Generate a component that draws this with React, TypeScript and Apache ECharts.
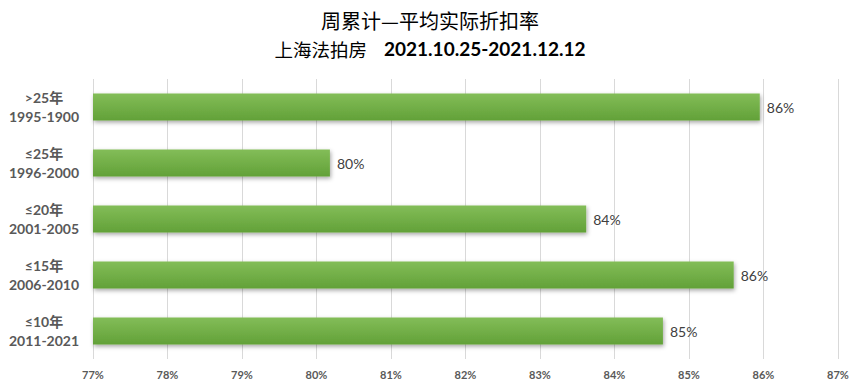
import React, { useEffect, useRef } from "react";
import * as echarts from "echarts";

const categories = [">25年\n1995-1900", "≤25年\n1996-2000", "≤20年\n2001-2005", "≤15年\n2006-2010", "≤10年\n2011-2021"];
const values = [85.95, 80.18, 83.62, 85.6, 84.65];
const xTicks = [77, 87, 1];

export default function App() {
  const ref = useRef<HTMLDivElement>(null);
  useEffect(() => {
    if (!ref.current) return;
    const chart = echarts.init(ref.current, null, { renderer: "svg" });
    chart.setOption({
      animation: false,
      backgroundColor: "#ffffff",
      title: [
        {
          text: "周累计—平均实际折扣率",
          left: "center",
          top: 5,
          textStyle: { fontFamily: "Noto Sans CJK SC", fontSize: 20, fontWeight: "normal", color: "#000" },
        },
        {
          text: "{a|上海法拍房}{s| }{b|2021.10.25-2021.12.12}",
          left: "center",
          top: 34,
          textStyle: {
            rich: {
              a: { fontFamily: "Noto Sans CJK SC", fontSize: 18.5, fontWeight: "normal", color: "#000" },
              s: { width: 17 },
              b: { fontFamily: "Lato", fontSize: 19, fontWeight: "bold", color: "#000" },
            },
          },
        },
      ],
      grid: { left: 93, right: 22, top: 79, height: 280, containLabel: false },
      xAxis: {
        type: "value",
        min: xTicks[0],
        max: xTicks[1],
        interval: xTicks[2],
        axisLine: { show: false },
        axisTick: { show: false },
        splitLine: { show: true, lineStyle: { color: "#d9d9d9", width: 1 } },
        axisLabel: {
          formatter: (v: number) => `${v}%`,
          color: "#595959",
          fontFamily: "Lato",
          fontSize: 11,
          fontWeight: "bold",
          margin: 10,
        },
      },
      yAxis: {
        type: "category",
        data: categories,
        inverse: true,
        axisLine: { show: false },
        axisTick: { show: false },
        axisLabel: {
          align: "center",
          margin: 49,
          color: "#595959",
          fontFamily: "Lato, Noto Sans CJK SC",
          fontSize: 14,
          fontWeight: "bold",
          lineHeight: 19,
        },
      },
      series: [
        {
          type: "bar",
          data: values,
          barWidth: 27,
          itemStyle: {
            color: new echarts.graphic.LinearGradient(0, 0, 0, 1, [
              { offset: 0, color: "#83bd58" },
              { offset: 1, color: "#62a138" },
            ]),
            shadowBlur: 4,
            shadowColor: "rgba(0,0,0,0.35)",
            shadowOffsetX: 1,
            shadowOffsetY: 2,
          },
          label: {
            show: true,
            position: "right",
            distance: 7,
            formatter: (p: any) => `${Math.round(p.value)}%`,
            color: "#404040",
            fontFamily: "Lato",
            fontSize: 14,
          },
        },
      ],
    });
    return () => chart.dispose();
  }, []);
  return <div ref={ref} style={{ position: "fixed", left: 0, top: 0, width: 860, height: 389 }} />;
}
